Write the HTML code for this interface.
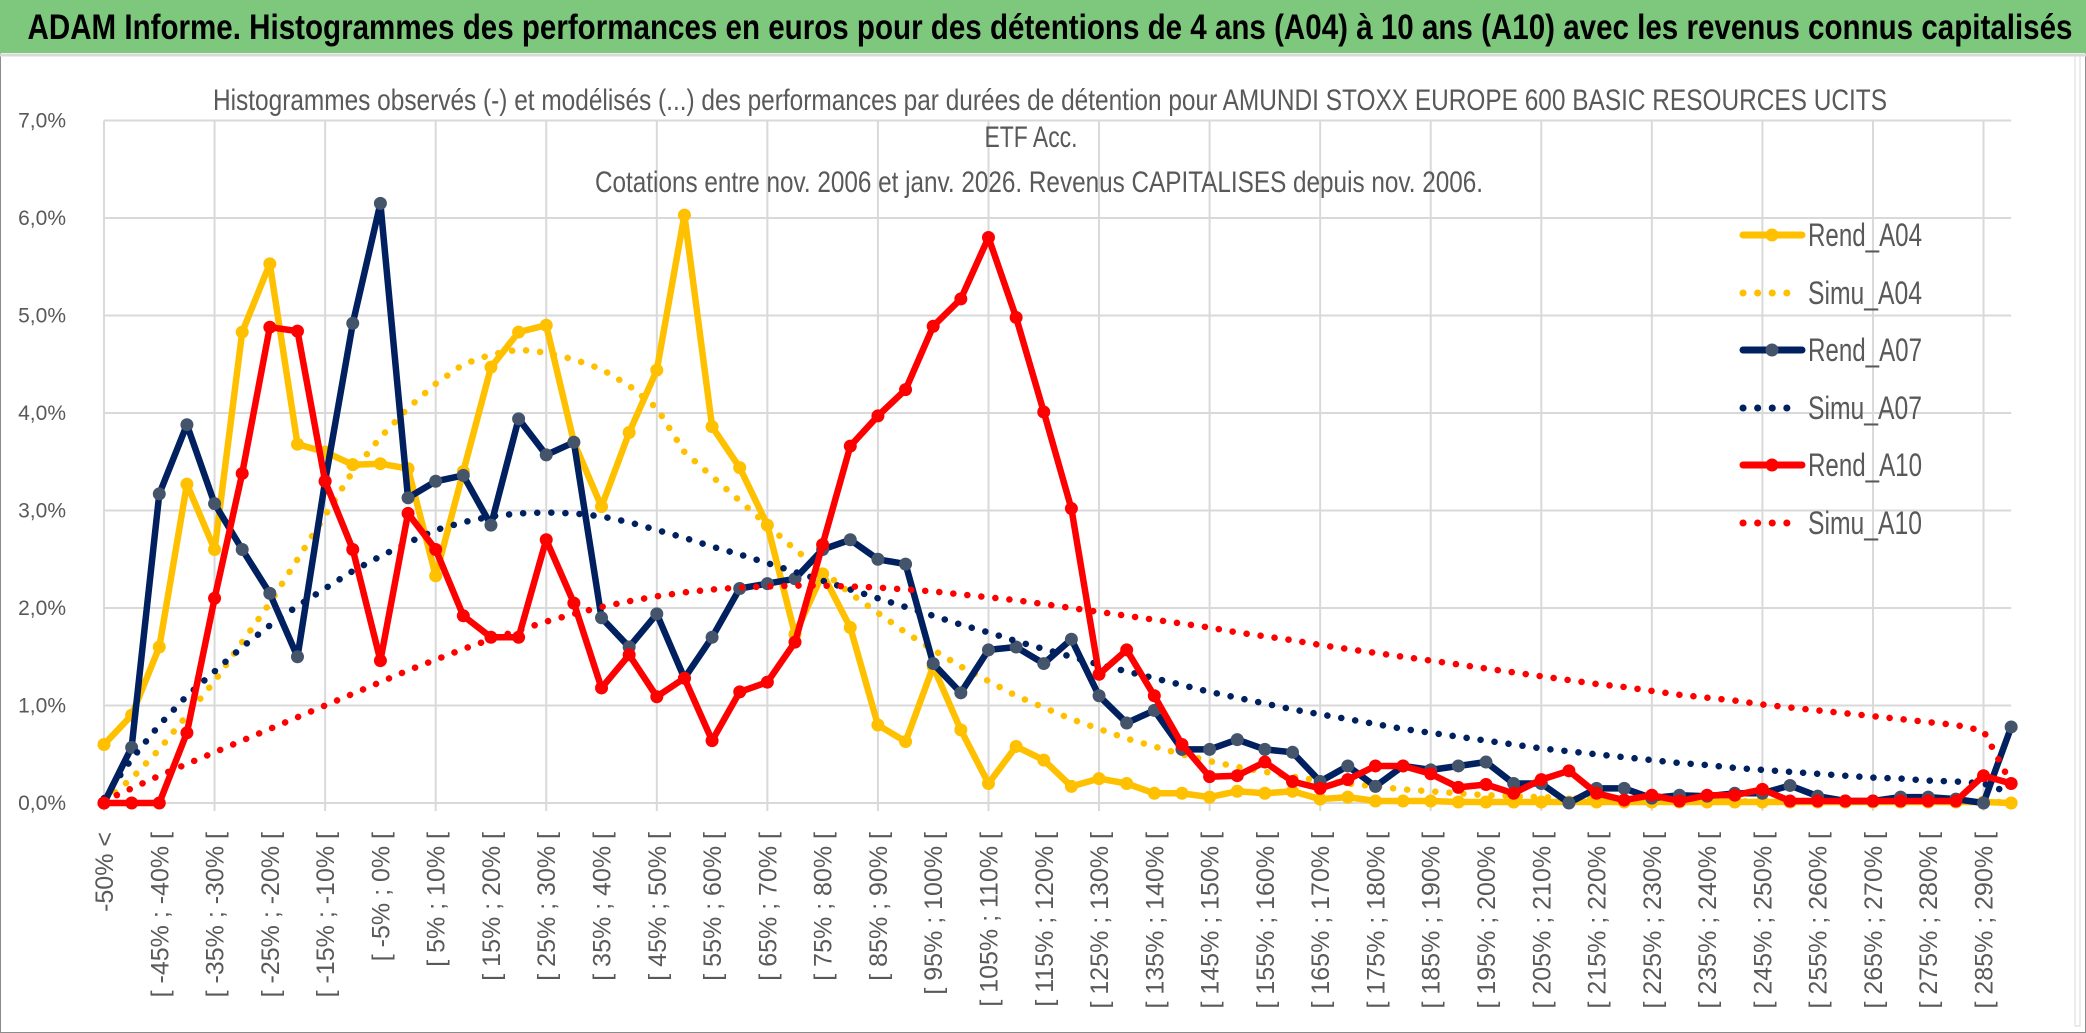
<!DOCTYPE html>
<html><head><meta charset="utf-8">
<style>
html,body{margin:0;padding:0;background:#fff;}
svg{display:block;font-family:"Liberation Sans",sans-serif;}
</style></head>
<body>
<svg id="chart" width="2086" height="1033" viewBox="0 0 2086 1033" xmlns="http://www.w3.org/2000/svg">
  <rect x="0" y="0" width="2086" height="1033" fill="#fff"/>
  <rect x="0.5" y="0.5" width="2085" height="1032" fill="none" stroke="#8c8c8c" stroke-width="1"/>
  <rect x="0" y="0" width="2086" height="53" fill="#7ec87e"/>
  <line x1="0" y1="55" x2="2086" y2="55" stroke="#d9d9d9" stroke-width="3"/>
  <text x="1050" y="39" text-anchor="middle" font-size="35" font-weight="bold" fill="#000" textLength="2045" lengthAdjust="spacingAndGlyphs">ADAM Informe. Histogrammes des performances en euros pour des détentions de 4 ans (A04) à 10 ans (A10) avec les revenus connus capitalisés</text>
  <rect x="2075" y="56" width="5" height="970" fill="#fff" stroke="#d9d9d9" stroke-width="1"/>
  <g id="grid"></g>
  <g id="yticks"></g>
  <g id="xticks"></g>
  <g id="series"></g>
  <g fill="#595959" font-size="30" font-weight="500" text-anchor="middle">
    <text x="1050" y="110" textLength="1674" lengthAdjust="spacingAndGlyphs">Histogrammes observés (-) et modélisés (...) des performances par durées de détention pour AMUNDI STOXX EUROPE 600 BASIC RESOURCES UCITS</text>
    <text x="1031" y="147" textLength="93" lengthAdjust="spacingAndGlyphs">ETF Acc.</text>
    <text x="1039" y="192" textLength="888" lengthAdjust="spacingAndGlyphs">Cotations entre nov. 2006 et janv. 2026. Revenus CAPITALISES depuis nov. 2006.</text>
  </g>
  <g id="legend"></g>
</svg>
<script>
const categories = [];
categories.push("-50% <");
for (let k = 1; k < 70; k++) { categories.push("[ " + (-55 + 5 * k) + "% ; " + (-50 + 5 * k) + "% ["); }
const yTicks = [0, 1, 2, 3, 4, 5, 6, 7];
const yTickLabels = ["0,0%", "1,0%", "2,0%", "3,0%", "4,0%", "5,0%", "6,0%", "7,0%"];
const seriesNames = ["Rend_A04", "Simu_A04", "Rend_A07", "Simu_A07", "Rend_A10", "Simu_A10"];
const rendA04 = [0.6,0.9,1.6,3.27,2.6,4.83,5.53,3.68,3.6,3.47,3.48,3.43,2.33,3.4,4.47,4.83,4.9,3.7,3.04,3.8,4.44,6.03,3.86,3.44,2.85,1.73,2.35,1.8,0.8,0.63,1.4,0.75,0.2,0.58,0.44,0.17,0.25,0.2,0.1,0.1,0.06,0.12,0.1,0.12,0.04,0.06,0.02,0.02,0.02,0.01,0.01,0.01,0.01,0.01,0.01,0.01,0.01,0.01,0.01,0.01,0.01,0.01,0.01,0.01,0.01,0.01,0.01,0.01,0.01,0.0];
const simuA04 = [0.02,0.25,0.55,0.9,1.25,1.65,2.05,2.5,2.95,3.4,3.75,4.05,4.3,4.5,4.6,4.65,4.62,4.55,4.45,4.28,4.05,3.6,3.35,3.1,2.85,2.6,2.38,2.15,1.95,1.75,1.57,1.4,1.25,1.1,0.98,0.86,0.76,0.66,0.58,0.5,0.43,0.37,0.32,0.27,0.23,0.2,0.17,0.14,0.12,0.1,0.08,0.07,0.06,0.05,0.04,0.03,0.03,0.02,0.02,0.02,0.01,0.01,0.01,0.01,0.01,0.01,0.01,0.01,0.01,0.01];
const rendA07 = [0.0,0.57,3.17,3.88,3.07,2.6,2.15,1.5,3.3,4.92,6.15,3.13,3.3,3.36,2.85,3.94,3.57,3.7,1.9,1.6,1.94,1.28,1.7,2.2,2.25,2.3,2.6,2.7,2.5,2.45,1.43,1.13,1.57,1.6,1.43,1.68,1.1,0.82,0.95,0.55,0.55,0.65,0.55,0.52,0.22,0.38,0.17,0.38,0.34,0.38,0.42,0.2,0.2,0.0,0.15,0.15,0.05,0.08,0.07,0.1,0.1,0.18,0.07,0.02,0.02,0.06,0.06,0.04,0.0,0.78];
const simuA07 = [0.05,0.45,0.8,1.1,1.35,1.6,1.82,2.02,2.2,2.38,2.53,2.67,2.8,2.88,2.94,2.97,2.98,2.97,2.94,2.88,2.8,2.72,2.63,2.55,2.46,2.37,2.28,2.19,2.1,2.01,1.92,1.83,1.75,1.66,1.58,1.5,1.42,1.35,1.28,1.21,1.14,1.08,1.02,0.96,0.91,0.86,0.81,0.76,0.72,0.68,0.64,0.6,0.56,0.53,0.5,0.47,0.44,0.41,0.39,0.36,0.34,0.32,0.3,0.28,0.26,0.25,0.23,0.22,0.2,0.1];
const rendA10 = [0.0,0.0,0.0,0.72,2.1,3.38,4.88,4.84,3.3,2.6,1.46,2.97,2.6,1.92,1.7,1.7,2.7,2.05,1.18,1.52,1.09,1.28,0.64,1.14,1.24,1.65,2.65,3.66,3.97,4.24,4.89,5.17,5.8,4.98,4.01,3.02,1.32,1.57,1.1,0.6,0.27,0.28,0.42,0.22,0.15,0.24,0.38,0.38,0.3,0.16,0.19,0.1,0.24,0.33,0.1,0.03,0.08,0.02,0.08,0.08,0.14,0.02,0.02,0.02,0.02,0.02,0.02,0.02,0.28,0.2];
const simuA10 = [0.02,0.15,0.28,0.4,0.52,0.64,0.76,0.88,1.0,1.12,1.24,1.36,1.47,1.58,1.68,1.77,1.86,1.94,2.01,2.07,2.12,2.16,2.19,2.21,2.22,2.23,2.23,2.22,2.21,2.19,2.17,2.14,2.11,2.08,2.04,2.0,1.96,1.92,1.88,1.84,1.8,1.75,1.71,1.67,1.62,1.58,1.54,1.5,1.46,1.42,1.38,1.34,1.3,1.26,1.22,1.19,1.15,1.11,1.08,1.05,1.01,0.98,0.95,0.92,0.89,0.86,0.83,0.8,0.74,0.2];

const NS = "http://www.w3.org/2000/svg";
const X0 = 104, DX = 27.64, Y0 = 803, DY = 97.5;
function xPos(k) { return X0 + k * DX; }
function yPos(v) { return Y0 - v * DY; }
function mk(tag, attrs, parent) {
  const e = document.createElementNS(NS, tag);
  for (const a in attrs) e.setAttribute(a, attrs[a]);
  parent.appendChild(e);
  return e;
}
const grid = document.getElementById("grid");
const xLeft = xPos(0), xRight = xPos(categories.length - 1);
yTicks.forEach(function (t, i) {
  const l = mk("line", {x1: xLeft, x2: xRight, y1: yPos(t), y2: yPos(t), stroke: "#d9d9d9", "stroke-width": 2}, grid);
  
  
  const tx = mk("text", {x: 66, y: yPos(t) + 7, "text-anchor": "end", "font-size": 21, fill: "#595959"}, document.getElementById("yticks"));
  tx.textContent = yTickLabels[i];
  
  
});
for (let k = 0; k < categories.length; k += 4) {
  const l = mk("line", {x1: xPos(k), x2: xPos(k), y1: yPos(7), y2: Y0 + 8, stroke: "#d9d9d9", "stroke-width": 2}, grid);
  
  
}
const xt = document.getElementById("xticks");
categories.forEach(function (c, k) {
  if (k % 2 !== 0) return;
  const x = xPos(k) + 9, y = 832;
  const t = mk("text", {x: x, y: y, "text-anchor": "end", "font-size": 25, fill: "#595959", transform: "rotate(-90 " + x + " " + y + ")"}, xt);
  t.textContent = c;
  
  
});
const styles = [
  {data: rendA04, color: "#ffc000", marker: "#ffc000", dotted: false},
  {data: simuA04, color: "#ffc000", dotted: true},
  {data: rendA07, color: "#002060", marker: "#44546a", dotted: false},
  {data: simuA07, color: "#002060", dotted: true},
  {data: rendA10, color: "#ff0000", marker: "#ff0000", dotted: false},
  {data: simuA10, color: "#ff0000", dotted: true}
];
const sg = document.getElementById("series");
styles.forEach(function (s, i) {
  const pts = s.data.map(function (v, k) { return xPos(k).toFixed(1) + "," + yPos(v).toFixed(1); }).join(" ");
  const g = mk("g", {}, sg);
  
  
  const pl = mk("polyline", {points: pts, fill: "none", stroke: s.color, "stroke-width": 6.5, "stroke-linejoin": "round", "stroke-linecap": "round"}, g);
  if (s.dotted) pl.setAttribute("stroke-dasharray", "0.1 14");
  
  
  if (!s.dotted) {
    s.data.forEach(function (v, k) {
      const c = mk("circle", {cx: xPos(k), cy: yPos(v), r: 6.5, fill: s.marker}, g);
      
      
    });
  }
});
const lg = document.getElementById("legend");
const legendY = [235, 293, 350, 408, 465, 523];
styles.forEach(function (s, i) {
  const g = mk("g", {}, lg);
  
  
  const y = legendY[i];
  if (s.dotted) {
    mk("line", {x1: 1743, x2: 1800, y1: y, y2: y, stroke: s.color, "stroke-width": 7, "stroke-linecap": "round", "stroke-dasharray": "0.1 14.5"}, g);
  } else {
    mk("line", {x1: 1743, x2: 1802, y1: y, y2: y, stroke: s.color, "stroke-width": 7, "stroke-linecap": "round"}, g);
    mk("circle", {cx: 1772, cy: y, r: 6.5, fill: s.marker}, g);
  }
  const t = mk("text", {x: 1808, y: y + 11, "font-size": 32, fill: "#595959", textLength: 114, lengthAdjust: "spacingAndGlyphs"}, g);
  t.textContent = seriesNames[i];
  
  
});
</script>
</body></html>
